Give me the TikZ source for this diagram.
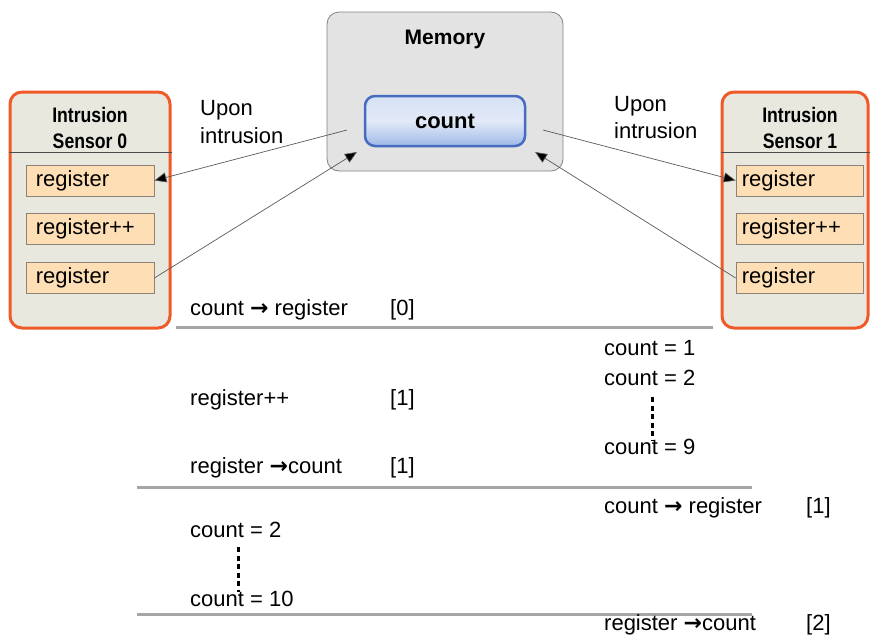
\documentclass[tikz,border=0pt]{standalone}
\usepackage{fontspec}
\setmainfont{Liberation Sans}
\newfontfamily\narrowfont[FakeStretch=0.84]{Liberation Sans}
\newfontfamily\symfont{DejaVu Sans}
\usetikzlibrary{arrows.meta}

\definecolor{sensorline}{RGB}{240,90,40}
\definecolor{sensorfill}{RGB}{232,232,222}
\definecolor{regfill}{RGB}{253,222,181}
\definecolor{regline}{RGB}{140,130,120}
\definecolor{memfill}{RGB}{227,227,227}
\definecolor{memline}{RGB}{130,130,130}
\definecolor{cntline}{RGB}{70,108,192}
\definecolor{cnttop}{RGB}{214,225,245}
\definecolor{cntbot}{RGB}{160,184,232}
\definecolor{timeline}{RGB}{166,166,166}

% bold right arrow used inside the timeline labels
\newcommand{\toarrow}{{\symfont\bfseries\char"2192}}

\tikzset{
  sensor/.style={draw=sensorline, line width=3pt, fill=sensorfill,
    rounded corners=12pt, minimum width=#1, minimum height=236pt, inner sep=0pt},
  reg/.style={draw=regline, line width=0.8pt, fill=regfill,
    minimum width=#1, minimum height=31pt, inner sep=0pt},
  regtext/.style={anchor=west, inner sep=0pt, font=\fontsize{22}{26}\selectfont},
  header/.style={align=center, inner sep=0pt,
    font=\narrowfont\bfseries\fontsize{21}{26}\selectfont},
  memory/.style={draw=memline, line width=0.8pt, fill=memfill,
    rounded corners=12pt, minimum width=236pt, minimum height=159pt},
  counter/.style={draw=cntline, line width=2.5pt, rounded corners=10pt,
    top color=cnttop, bottom color=cntbot, middle color=cnttop!70!white,
    minimum width=160pt, minimum height=50pt,
    font=\bfseries\fontsize{22}{26}\selectfont},
  conn/.style={draw=black!65, line width=0.7pt,
    -{Triangle[length=12pt,width=10pt,fill=black]}},
  txt/.style={anchor=base west, inner sep=0pt, font=\fontsize{22}{26}\selectfont},
  step line/.style={draw=timeline, line width=3pt},
  dots/.style={line width=3pt, dash pattern=on 5pt off 3.5pt},
}

\begin{document}
\begin{tikzpicture}[x=1pt,y=-1pt]
\useasboundingbox (0,0) rectangle (870,635);

% ---- Memory with the shared counter
\node[memory] (mem) at (445,91.5) {};
\node[font=\bfseries\fontsize{21}{25}\selectfont, anchor=base] (memlbl) at (445,44) {Memory};
\node[counter] (count) at (445,121) {count};

% ---- Sensor 0
\node[sensor=160pt] (s0) at (90,210) {};
\node[header] (h0) at (90,128) {Intrusion\\Sensor 0};
\draw[black!70, line width=0.8pt] (s0.west |- 0,152) -- (s0.east |- 0,152);
\node[reg=128pt] (r0a) at (90,180.5) {};
\node[regtext] at ([xshift=10pt]r0a.west) {register};
\node[reg=128pt] (r0b) at (90,229) {};
\node[regtext] at ([xshift=10pt]r0b.west) {register++};
\node[reg=128pt] (r0c) at (90,278) {};
\node[regtext] at ([xshift=10pt]r0c.west) {register};

% ---- Sensor 1
\node[sensor=146pt] (s1) at (795,210) {};
\node[header] (h1) at (800,128) {Intrusion\\Sensor 1};
\draw[black!70, line width=0.8pt] (s1.west |- 0,152) -- (s1.east |- 0,152);
\node[reg=127pt] (r1a) at (799.5,180.5) {};
\node[regtext] at ([xshift=6pt]r1a.west) {register};
\node[reg=127pt] (r1b) at (799.5,229) {};
\node[regtext] at ([xshift=6pt]r1b.west) {register++};
\node[reg=127pt] (r1c) at (799.5,278) {};
\node[regtext] at ([xshift=6pt]r1c.west) {register};

% ---- labels beside the connectors
\node[txt] (up0) at (200,115) {Upon};
\node[txt] (in0) at (200,143) {intrusion};
\node[txt] (up1) at (614,111) {Upon};
\node[txt] (in1) at (614,138) {intrusion};

% ---- connectors between memory and the sensors
\coordinate (m0out) at (347,130);
\coordinate (m0in)  at (357,152);
\coordinate (m1out) at (543,130);
\coordinate (m1in)  at (535,152);
\draw[conn] (m0out) -- (r0a.east);
\draw[conn] (r0c.east) -- (m0in);
\draw[conn] (m1out) -- (r1a.west);
\draw[conn] (r1c.west) -- (m1in);

% ---- timeline
\node[txt] (t0) at (190,315) {count \toarrow{} register};
\node[txt] (t0i) at (390,315) {[0]};
\draw[step line] (176,327) -- (713,327);

\node[txt] (c1) at (604,355) {count = 1};
\node[txt] (c2) at (604,385) {count = 2};
\node[txt] (c9) at (604,454) {count = 9};
\draw[dots] (652,397) -- (652,441);

\node[txt] (t1) at (190,405) {register++};
\node[txt] (t1i) at (390,405) {[1]};
\node[txt] (t2) at (190,473) {register \toarrow count};
\node[txt] (t2i) at (390,473) {[1]};
\draw[step line] (137,487) -- (752,487);

\node[txt] (u1) at (604,513) {count \toarrow{} register};
\node[txt] (u1i) at (806,513) {[1]};
\node[txt] (d2) at (190,537) {count = 2};
\node[txt] (d10) at (190,606) {count = 10};
\draw[dots] (238,547) -- (238,592);
\draw[step line] (137,614) -- (752,614);
\node[txt] (u2) at (604,630.5) {register \toarrow count};
\node[txt] (u2i) at (806,630.5) {[2]};
\end{tikzpicture}
\end{document}
